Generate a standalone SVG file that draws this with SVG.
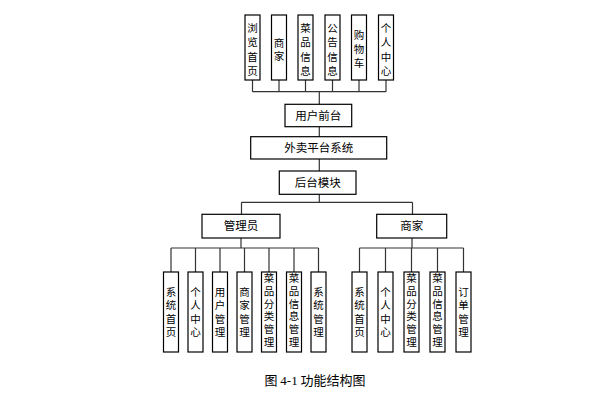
<svg xmlns="http://www.w3.org/2000/svg" width="606" height="418" viewBox="0 0 606 418">
<style>
.box{fill:#fff;stroke:#000;stroke-width:1.2}
.ln{stroke:#333;stroke-width:1.2;fill:none}
.t{font-family:"Noto Sans CJK SC","Noto Sans CJK JP",sans-serif;font-size:11.5px;fill:#000;text-anchor:middle}
.v{font-family:"Liberation Sans","Noto Sans CJK SC",sans-serif;font-size:10.5px;fill:#000;text-anchor:middle}
.cap{font-family:"Noto Sans CJK SC",sans-serif;font-size:13px;fill:#000;text-anchor:middle}
</style>
<rect width="606" height="418" fill="#fff"/>
<g id="connectors">
<path class="ln" d="M252.5,80V91.7M279,80V91.7M305.5,80V91.7M332.5,80V91.7M359,80V91.7M386,80V91.7M252.5,91.7H386M319.3,91.7V104.3"/>
<path class="ln" d="M319.3,126.7V136.7M319.3,159V171M319.3,194.3V202.3M241.5,202.3H412.5M241.5,202.3V214.3M412.5,202.3V214.3"/>
<path class="ln" d="M241,238V248M171,248H318.5M171,248V272M195.5,248V272M220,248V272M244.5,248V272M269,248V272M294,248V272M318.5,248V272"/>
<path class="ln" d="M412,238V248M359.5,248H463.5M359.5,248V272M385.5,248V272M411.5,248V272M437.5,248V272M463.5,248V272"/>
</g>
<g id="top1"><rect class="box" x="245" y="15" width="15" height="65"/><text class="v"><tspan x="252.5" y="31.5">浏</tspan><tspan x="252.5" y="46">览</tspan><tspan x="252.5" y="60.5">首</tspan><tspan x="252.5" y="75">页</tspan></text></g>
<g id="top2"><rect class="box" x="271.5" y="15" width="15" height="65"/><text class="v"><tspan x="279" y="47">商</tspan><tspan x="279" y="60">家</tspan></text></g>
<g id="top3"><rect class="box" x="298" y="15" width="15" height="65"/><text class="v"><tspan x="305.5" y="31.5">菜</tspan><tspan x="305.5" y="46">品</tspan><tspan x="305.5" y="60.5">信</tspan><tspan x="305.5" y="75">息</tspan></text></g>
<g id="top4"><rect class="box" x="325" y="15" width="15" height="65"/><text class="v"><tspan x="332.5" y="31.5">公</tspan><tspan x="332.5" y="46">告</tspan><tspan x="332.5" y="60.5">信</tspan><tspan x="332.5" y="75">息</tspan></text></g>
<g id="top5"><rect class="box" x="351.5" y="15" width="15" height="65"/><text class="v"><tspan x="359" y="39">购</tspan><tspan x="359" y="53">物</tspan><tspan x="359" y="67">车</tspan></text></g>
<g id="top6"><rect class="box" x="378.5" y="15" width="15" height="65"/><text class="v"><tspan x="386" y="31.5">个</tspan><tspan x="386" y="46">人</tspan><tspan x="386" y="60.5">中</tspan><tspan x="386" y="75">心</tspan></text></g>
<g id="frontend"><rect class="box" x="285" y="104.3" width="66.7" height="22.4"/><text class="t" x="318.3" y="119.5">用户前台</text></g>
<g id="system"><rect class="box" x="250.7" y="136.7" width="136" height="22.3"/><text class="t" x="318.7" y="152">外卖平台系统</text></g>
<g id="backend"><rect class="box" x="279.3" y="171" width="76.7" height="23.3"/><text class="t" x="317.7" y="186.7">后台模块</text></g>
<g id="admin"><rect class="box" x="202" y="214.3" width="78" height="23.7"/><text class="t" x="241" y="230">管理员</text></g>
<g id="merchant"><rect class="box" x="376.7" y="214.3" width="70" height="23.7"/><text class="t" x="411.7" y="230">商家</text></g>
<g id="a1"><rect class="box" x="163.5" y="272" width="15" height="80"/><text class="v"><tspan x="171" y="296">系</tspan><tspan x="171" y="309.3">统</tspan><tspan x="171" y="322.6">首</tspan><tspan x="171" y="335.9">页</tspan></text></g>
<g id="a2"><rect class="box" x="188" y="272" width="15" height="80"/><text class="v"><tspan x="195.5" y="296">个</tspan><tspan x="195.5" y="309.3">人</tspan><tspan x="195.5" y="322.6">中</tspan><tspan x="195.5" y="335.9">心</tspan></text></g>
<g id="a3"><rect class="box" x="212.5" y="272" width="15" height="80"/><text class="v"><tspan x="220" y="296">用</tspan><tspan x="220" y="309.3">户</tspan><tspan x="220" y="322.6">管</tspan><tspan x="220" y="335.9">理</tspan></text></g>
<g id="a4"><rect class="box" x="237" y="272" width="15" height="80"/><text class="v"><tspan x="244.5" y="296">商</tspan><tspan x="244.5" y="309.3">家</tspan><tspan x="244.5" y="322.6">管</tspan><tspan x="244.5" y="335.9">理</tspan></text></g>
<g id="a5"><rect class="box" x="261.5" y="272" width="15" height="80"/><text class="v"><tspan x="269" y="282.3">菜</tspan><tspan x="269" y="295">品</tspan><tspan x="269" y="307.7">分</tspan><tspan x="269" y="320.4">类</tspan><tspan x="269" y="333.1">管</tspan><tspan x="269" y="345.8">理</tspan></text></g>
<g id="a6"><rect class="box" x="286.5" y="272" width="15" height="80"/><text class="v"><tspan x="294" y="282.3">菜</tspan><tspan x="294" y="295">品</tspan><tspan x="294" y="307.7">信</tspan><tspan x="294" y="320.4">息</tspan><tspan x="294" y="333.1">管</tspan><tspan x="294" y="345.8">理</tspan></text></g>
<g id="a7"><rect class="box" x="311" y="272" width="15" height="80"/><text class="v"><tspan x="318.5" y="296">系</tspan><tspan x="318.5" y="309.3">统</tspan><tspan x="318.5" y="322.6">管</tspan><tspan x="318.5" y="335.9">理</tspan></text></g>
<g id="m1"><rect class="box" x="352" y="272" width="15" height="80"/><text class="v"><tspan x="359.5" y="296">系</tspan><tspan x="359.5" y="309.3">统</tspan><tspan x="359.5" y="322.6">首</tspan><tspan x="359.5" y="335.9">页</tspan></text></g>
<g id="m2"><rect class="box" x="378" y="272" width="15" height="80"/><text class="v"><tspan x="385.5" y="296">个</tspan><tspan x="385.5" y="309.3">人</tspan><tspan x="385.5" y="322.6">中</tspan><tspan x="385.5" y="335.9">心</tspan></text></g>
<g id="m3"><rect class="box" x="404" y="272" width="15" height="80"/><text class="v"><tspan x="411.5" y="282.3">菜</tspan><tspan x="411.5" y="295">品</tspan><tspan x="411.5" y="307.7">分</tspan><tspan x="411.5" y="320.4">类</tspan><tspan x="411.5" y="333.1">管</tspan><tspan x="411.5" y="345.8">理</tspan></text></g>
<g id="m4"><rect class="box" x="430" y="272" width="15" height="80"/><text class="v"><tspan x="437.5" y="282.3">菜</tspan><tspan x="437.5" y="295">品</tspan><tspan x="437.5" y="307.7">信</tspan><tspan x="437.5" y="320.4">息</tspan><tspan x="437.5" y="333.1">管</tspan><tspan x="437.5" y="345.8">理</tspan></text></g>
<g id="m5"><rect class="box" x="456" y="272" width="15" height="80"/><text class="v"><tspan x="463.5" y="296">订</tspan><tspan x="463.5" y="309.3">单</tspan><tspan x="463.5" y="322.6">管</tspan><tspan x="463.5" y="335.9">理</tspan></text></g>
<text class="cap" x="315" y="385">图 <tspan font-family="Liberation Serif,serif">4-1</tspan> 功能结构图</text>
</svg>
